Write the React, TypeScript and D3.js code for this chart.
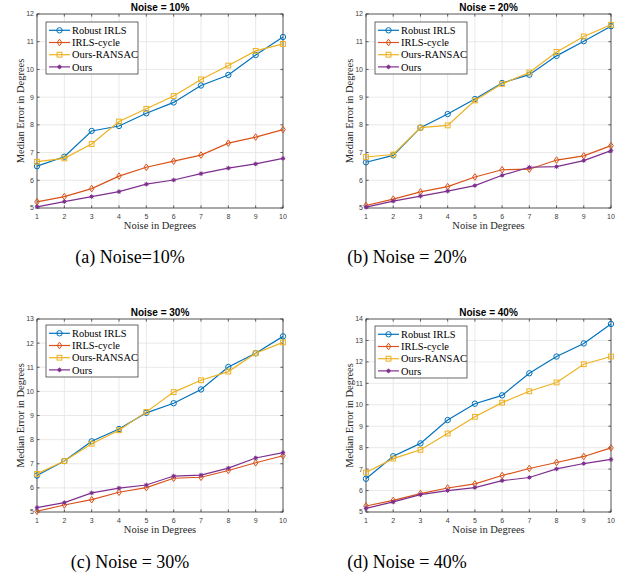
import React, { useEffect, useRef } from 'react';
import * as d3 from 'd3';

// x values (noise in degrees)
const noiseDegrees = [1, 2, 3, 4, 5, 6, 7, 8, 9, 10];
const seriesNames = ['Robust IRLS', 'IRLS-cycle', 'Ours-RANSAC', 'Ours'];
const seriesColors = ['#0072BD', '#D95319', '#EDB120', '#7E2F8E'];
const seriesMarkers = ['circle', 'diamond', 'square', 'star'];

// Noise = 10%
const robustIrls10 = [6.51, 6.85, 7.78, 7.96, 8.42, 8.81, 9.42, 9.8, 10.52, 11.17];
const irlsCycle10 = [5.22, 5.41, 5.7, 6.15, 6.47, 6.69, 6.91, 7.34, 7.56, 7.83];
const oursRansac10 = [6.67, 6.79, 7.31, 8.12, 8.58, 9.04, 9.64, 10.14, 10.67, 10.92];
const ours10 = [5.04, 5.23, 5.41, 5.59, 5.86, 6.01, 6.24, 6.44, 6.59, 6.79];

// Noise = 20%
const robustIrls20 = [6.65, 6.9, 7.9, 8.39, 8.93, 9.51, 9.81, 10.49, 11.02, 11.56];
const irlsCycle20 = [5.09, 5.32, 5.58, 5.77, 6.12, 6.38, 6.4, 6.73, 6.88, 7.25];
const oursRansac20 = [6.84, 6.93, 7.9, 7.98, 8.88, 9.48, 9.89, 10.63, 11.19, 11.61];
const ours20 = [5.03, 5.25, 5.43, 5.61, 5.81, 6.18, 6.47, 6.49, 6.71, 7.07];

// Noise = 30%
const robustIrls30 = [6.51, 7.11, 7.93, 8.44, 9.11, 9.51, 10.08, 11.01, 11.58, 12.28];
const irlsCycle30 = [5.03, 5.29, 5.51, 5.82, 6.01, 6.4, 6.44, 6.72, 7.04, 7.33];
const oursRansac30 = [6.58, 7.11, 7.83, 8.39, 9.15, 9.97, 10.46, 10.82, 11.58, 12.03];
const ours30 = [5.18, 5.39, 5.79, 5.99, 6.12, 6.49, 6.53, 6.82, 7.24, 7.46];

// Noise = 40%
const robustIrls40 = [6.55, 7.6, 8.2, 9.29, 10.05, 10.44, 11.47, 12.25, 12.86, 13.77];
const irlsCycle40 = [5.28, 5.54, 5.86, 6.12, 6.31, 6.7, 7.03, 7.31, 7.59, 7.99];
const oursRansac40 = [6.84, 7.49, 7.9, 8.66, 9.44, 10.1, 10.63, 11.04, 11.89, 12.25];
const ours40 = [5.17, 5.47, 5.81, 6.0, 6.14, 6.46, 6.61, 7.01, 7.26, 7.45];

const panelTitles = ['Noise = 10%', 'Noise = 20%', 'Noise = 30%', 'Noise = 40%'];
const captions = ['(a) Noise=10%', '(b) Noise = 20%', '(c) Noise = 30%', '(d) Noise = 40%'];
const yMin = [5, 5, 5, 5];
const yMax = [12, 12, 13, 14];

const panelSeries = [
  [robustIrls10, irlsCycle10, oursRansac10, ours10],
  [robustIrls20, irlsCycle20, oursRansac20, ours20],
  [robustIrls30, irlsCycle30, oursRansac30, ours30],
  [robustIrls40, irlsCycle40, oursRansac40, ours40],
];

// plot boxes in page pixels
const boxes = [
  { left: 37, right: 283, top: 14, bottom: 208, capX: 130, capY: 263, legTop: 22 },
  { left: 366, right: 611, top: 14, bottom: 208, capX: 407, capY: 263, legTop: 22 },
  { left: 37, right: 283, top: 319, bottom: 512, capX: 130, capY: 568, legTop: 325 },
  { left: 366, right: 611, top: 319, bottom: 512, capX: 407, capY: 568, legTop: 326 },
];

function drawMarker(g: any, kind: string, x: number, y: number, color: string) {
  if (kind === 'circle') {
    g.append('circle').attr('cx', x).attr('cy', y).attr('r', 2.7)
      .attr('fill', 'none').attr('stroke', color).attr('stroke-width', 1);
  } else if (kind === 'diamond') {
    g.append('path').attr('d', `M${x},${y - 3.3}L${x + 2.3},${y}L${x},${y + 3.3}L${x - 2.3},${y}Z`)
      .attr('fill', 'none').attr('stroke', color).attr('stroke-width', 1);
  } else if (kind === 'square') {
    g.append('rect').attr('x', x - 2.4).attr('y', y - 2.4).attr('width', 4.8).attr('height', 4.8)
      .attr('fill', 'none').attr('stroke', color).attr('stroke-width', 1);
  } else {
    // small asterisk, reads as a filled blob at this size
    const r = 2.3;
    const d = r * 0.707;
    g.append('path')
      .attr('d', `M${x - r},${y}L${x + r},${y}M${x},${y - r}L${x},${y + r}M${x - d},${y - d}L${x + d},${y + d}M${x - d},${y + d}L${x + d},${y - d}`)
      .attr('stroke', color).attr('stroke-width', 0.9);
    g.append('circle').attr('cx', x).attr('cy', y).attr('r', 1.6).attr('fill', color);
  }
}

export default function App() {
  const ref = useRef<SVGSVGElement>(null);

  useEffect(() => {
    const svg = d3.select(ref.current);
    svg.selectAll('*').remove();

    boxes.forEach((b, pi) => {
      const g = svg.append('g');
      const x = d3.scaleLinear().domain([1, 10]).range([b.left, b.right]);
      const y = d3.scaleLinear().domain([yMin[pi], yMax[pi]]).range([b.bottom, b.top]);
      const yTicks = d3.range(yMin[pi], yMax[pi] + 1);

      // white background + grid
      g.append('rect').attr('x', b.left).attr('y', b.top)
        .attr('width', b.right - b.left).attr('height', b.bottom - b.top).attr('fill', '#fff');
      noiseDegrees.forEach(t => {
        g.append('line').attr('x1', x(t)).attr('x2', x(t)).attr('y1', b.top).attr('y2', b.bottom)
          .attr('stroke', '#e3e3e3').attr('stroke-width', 0.8);
      });
      yTicks.forEach(t => {
        g.append('line').attr('x1', b.left).attr('x2', b.right).attr('y1', y(t)).attr('y2', y(t))
          .attr('stroke', '#e3e3e3').attr('stroke-width', 0.8);
      });

      // box and inward ticks
      g.append('rect').attr('x', b.left).attr('y', b.top)
        .attr('width', b.right - b.left).attr('height', b.bottom - b.top)
        .attr('fill', 'none').attr('stroke', '#3a3a3a').attr('stroke-width', 0.8);
      noiseDegrees.forEach(t => {
        g.append('line').attr('x1', x(t)).attr('x2', x(t)).attr('y1', b.bottom).attr('y2', b.bottom - 2.6)
          .attr('stroke', '#3a3a3a').attr('stroke-width', 0.8);
        g.append('line').attr('x1', x(t)).attr('x2', x(t)).attr('y1', b.top).attr('y2', b.top + 2.6)
          .attr('stroke', '#3a3a3a').attr('stroke-width', 0.8);
        g.append('text').attr('x', x(t)).attr('y', b.bottom + 10.5)
          .attr('text-anchor', 'middle').attr('font-family', 'Liberation Sans, Arial, sans-serif')
          .attr('font-size', 7).attr('fill', '#404040').text(t);
      });
      yTicks.forEach(t => {
        g.append('line').attr('x1', b.left).attr('x2', b.left + 2.6).attr('y1', y(t)).attr('y2', y(t))
          .attr('stroke', '#3a3a3a').attr('stroke-width', 0.8);
        g.append('line').attr('x1', b.right).attr('x2', b.right - 2.6).attr('y1', y(t)).attr('y2', y(t))
          .attr('stroke', '#3a3a3a').attr('stroke-width', 0.8);
        g.append('text').attr('x', b.left - 3).attr('y', y(t)).attr('dy', '0.35em')
          .attr('text-anchor', 'end').attr('font-family', 'Liberation Sans, Arial, sans-serif')
          .attr('font-size', 7).attr('fill', '#404040').text(t);
      });

      // series
      const line = d3.line<number>().x((_, i) => x(noiseDegrees[i])).y(d => y(d));
      panelSeries[pi].forEach((vals, si) => {
        g.append('path').datum(vals).attr('d', line).attr('fill', 'none')
          .attr('stroke', seriesColors[si]).attr('stroke-width', 1.2);
        vals.forEach((v, i) => drawMarker(g, seriesMarkers[si], x(noiseDegrees[i]), y(v), seriesColors[si]));
      });

      // title and axis labels
      g.append('text').attr('x', (b.left + b.right) / 2).attr('y', b.top - 3.5)
        .attr('text-anchor', 'middle').attr('font-family', 'Liberation Sans, Arial, sans-serif')
        .attr('font-weight', 'bold').attr('font-size', 10).attr('fill', '#000').text(panelTitles[pi]);
      g.append('text').attr('x', (b.left + b.right) / 2).attr('y', b.bottom + 21)
        .attr('text-anchor', 'middle').attr('font-family', 'Liberation Serif, Times New Roman, serif')
        .attr('font-size', 10.5).attr('fill', '#262626').text('Noise in Degrees');
      const ly = (b.top + b.bottom) / 2;
      const lx = b.left - 17;
      g.append('text').attr('transform', `translate(${lx},${ly}) rotate(-90)`).attr('dy', '0.35em')
        .attr('text-anchor', 'middle').attr('font-family', 'Liberation Serif, Times New Roman, serif')
        .attr('font-size', 10.5).attr('fill', '#262626').text('Median Error in Degrees');

      // legend
      const legX = b.left + 9;
      const legW = 92;
      const legH = 52;
      g.append('rect').attr('x', legX).attr('y', b.legTop).attr('width', legW).attr('height', legH)
        .attr('fill', '#fff').attr('stroke', '#262626').attr('stroke-width', 0.7);
      seriesNames.forEach((name, si) => {
        const ry = b.legTop + 8.3 + si * 12.2;
        g.append('line').attr('x1', legX + 3).attr('x2', legX + 24).attr('y1', ry).attr('y2', ry)
          .attr('stroke', seriesColors[si]).attr('stroke-width', 1.2);
        drawMarker(g, seriesMarkers[si], legX + 13.5, ry, seriesColors[si]);
        g.append('text').attr('x', legX + 26).attr('y', ry).attr('dy', '0.35em')
          .attr('font-family', 'Liberation Serif, Times New Roman, serif')
          .attr('font-size', 10.4).attr('fill', '#000').text(name);
      });

      // caption
      svg.append('text').attr('x', b.capX).attr('y', b.capY).attr('text-anchor', 'middle')
        .attr('font-family', 'Liberation Serif, Times New Roman, serif')
        .attr('font-size', 18).attr('fill', '#000').text(captions[pi]);
    });
  }, []);

  return (
    <svg ref={ref} width={620} height={577}
      style={{ position: 'absolute', left: 0, top: 0, background: '#fff' }} />
  );
}
